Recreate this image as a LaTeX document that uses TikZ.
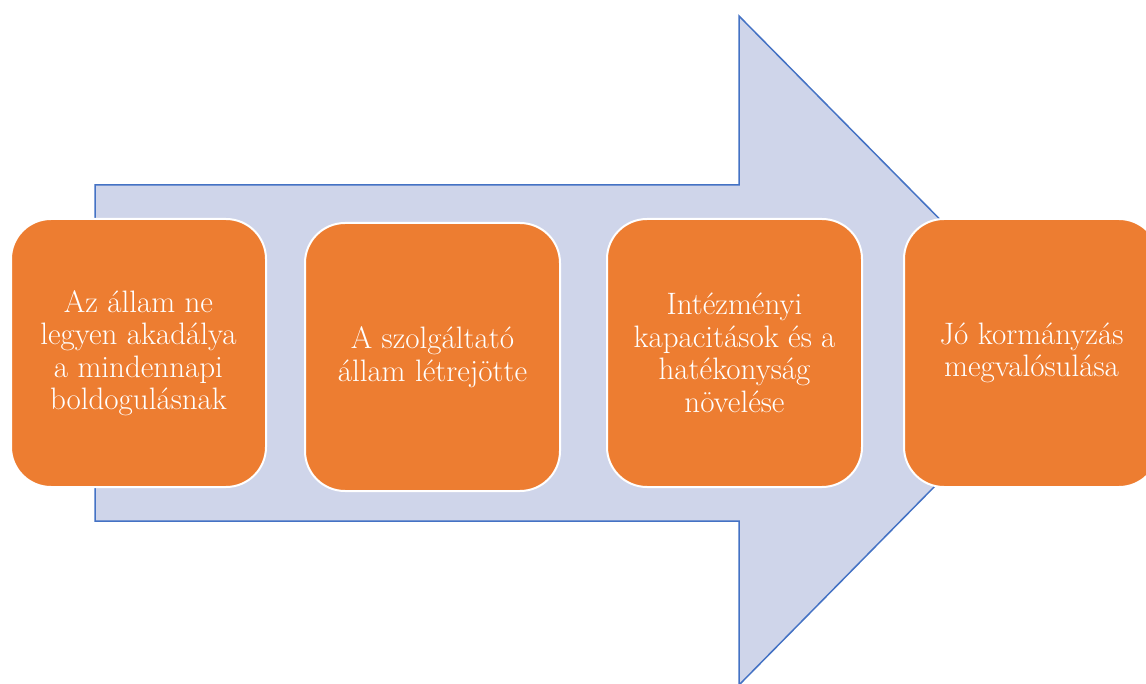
\documentclass[tikz,border=0pt]{standalone}
\usetikzlibrary{positioning}
\definecolor{boxorange}{HTML}{ED7D31}
\definecolor{arrowfill}{HTML}{CFD5EA}
\definecolor{arrowline}{HTML}{4472C4}

\begin{document}
\begin{tikzpicture}[
        x=1pt, y=-1pt,
        stage/.style={draw=white, line width=2pt, fill=boxorange, rounded corners=40pt,
          minimum width=255pt, minimum height=268pt, inner sep=0pt, align=center,
          text=white, font=\fontsize{31}{32.5}\selectfont},
        bigarrow/.style={draw=arrowline, line width=1.5pt, fill=arrowfill}
        ]
        \useasboundingbox (0,0) rectangle (1146,684);

        % background arrow
        \draw[bigarrow] (95,185) -- (739,185) -- (739,16) -- (1069,350)
          -- (739,685) -- (739,521) -- (95,521) -- cycle;

        % stages
        \node[stage] (allam) at (138.5,353) {Az állam ne\\ legyen akadálya\\ a mindennapi\\ boldogulásnak};
        \node[stage, right=37pt of allam, yshift=-4pt] (szolg) {A szolgáltató\\ állam létrejötte};
        \node[stage, right=45pt of szolg, yshift=4pt] (kapac) {Intézményi\\ kapacitások és a\\ hatékonyság\\ növelése};
        \node[stage, right=40pt of kapac] (jo) {Jó kormányzás\\ megvalósulása};
\end{tikzpicture}
\end{document}
